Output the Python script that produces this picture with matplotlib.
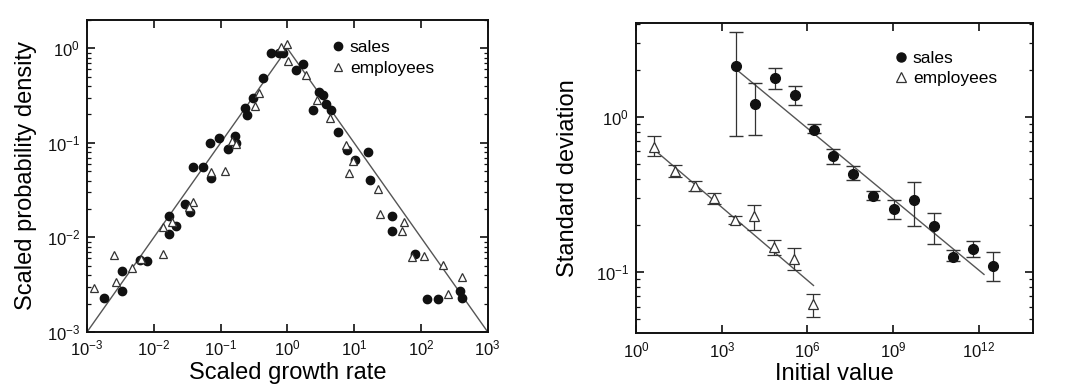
import numpy as np
import matplotlib
matplotlib.use("Agg")
import matplotlib.pyplot as plt
from matplotlib.lines import Line2D
from matplotlib.ticker import FixedLocator, LogLocator, NullFormatter, NullLocator, LogFormatterSciNotation

plt.rcParams["font.family"] = ["Liberation Sans", "DejaVu Sans"]

# --- left panel: scaled growth-rate distribution (log10 values)
sales_x = [-2.75, -2.48, -2.48, -2.21, -2.10, -1.78, -1.78, -1.67, -1.53, -1.46,
           -1.41, -1.27, -1.14, -1.16, -1.02, -0.89, -0.79, -0.77, -0.64, -0.61,
           -0.52, -0.37, -0.25, -0.12, -0.06, 0.13, 0.23, 0.39, 0.48, 0.53,
           0.58, 0.65, 0.76, 0.90, 1.01, 1.21, 1.23, 1.57, 1.56, 1.91,
           2.09, 2.25, 2.59, 2.62]
sales_y = [-2.64, -2.35, -2.57, -2.24, -2.25, -1.77, -1.96, -1.88, -1.65, -1.73,
           -1.26, -1.26, -1.37, -1.00, -0.95, -1.06, -0.93, -1.00, -0.63, -0.70,
           -0.52, -0.31, -0.05, -0.05, -0.05, -0.23, -0.17, -0.65, -0.46, -0.49,
           -0.59, -0.65, -0.88, -1.08, -1.18, -1.10, -1.39, -1.77, -1.93, -2.17,
           -2.65, -2.65, -2.57, -2.64]
emp_x = [-2.90, -2.59, -2.56, -2.33, -2.19, -1.87, -1.86, -1.73, -1.41, -1.48,
         -1.14, -0.94, -0.83, -0.77, -0.48, -0.42, -0.09, -0.01, 0.01, 0.28,
         0.44, 0.64, 0.88, 0.92, 0.98, 1.35, 1.39, 1.71, 1.75, 1.87,
         2.04, 2.33, 2.40, 2.62]
emp_y = [-2.53, -2.19, -2.47, -2.32, -2.23, -2.18, -1.89, -1.84, -1.63, -1.68,
         -1.31, -1.30, -0.98, -1.01, -0.61, -0.47, 0.01, 0.05, -0.13, -0.28,
         -0.55, -0.74, -1.02, -1.32, -1.19, -1.49, -1.75, -1.93, -1.84, -2.21,
         -2.20, -2.29, -2.60, -2.42]
tent_x = [1e-3, 1.0, 1e3]
tent_y = [1e-3, 1.0, 1e-3]

# --- right panel: standard deviation vs initial value
s_x = [3.48, 4.16, 4.86, 5.56, 6.23, 6.91, 7.61, 8.29, 9.02, 9.72, 10.42, 11.10, 11.80, 12.49]
s_sd = [2.15, 1.22, 1.79, 1.38, 0.83, 0.557, 0.43, 0.31, 0.257, 0.293, 0.197, 0.126, 0.1415, 0.110]
s_hi = [3.53, 1.67, 2.07, 1.58, 0.906, 0.62, 0.48, 0.336, 0.29, 0.38, 0.241, 0.138, 0.158, 0.134]
s_lo = [0.76, 0.77, 1.51, 1.19, 0.79, 0.50, 0.39, 0.29, 0.22, 0.197, 0.152, 0.118, 0.125, 0.087]
e_x = [0.64, 1.35, 2.05, 2.73, 3.45, 4.13, 4.84, 5.54, 6.21]
e_sd = [0.64, 0.449, 0.357, 0.30, 0.218, 0.229, 0.145, 0.122, 0.0625]
e_hi = [0.75, 0.488, 0.385, 0.325, 0.229, 0.269, 0.162, 0.143, 0.0725]
e_lo = [0.557, 0.41, 0.333, 0.276, 0.205, 0.1875, 0.128, 0.1035, 0.051]
s_fit_x = [3.48, 12.18]
s_fit_y = [2.05, 0.0966]
e_fit_x = [0.64, 6.21]
e_fit_y = [0.615, 0.082]

fig = plt.figure(figsize=(10.8, 3.91), dpi=100)
ax1 = fig.add_axes([0.0806, 0.151, 0.371, 0.798])
ax2 = fig.add_axes([0.589, 0.148, 0.3676, 0.793])

ink = "#111111"


def style(ax):
    for sp in ax.spines.values():
        sp.set_linewidth(1.4)
        sp.set_color(ink)
    ax.tick_params(which="both", direction="in", top=True, right=True, colors=ink,
                   labelsize=12, pad=5)
    ax.tick_params(which="major", length=6, width=1.2)
    ax.tick_params(which="minor", length=3, width=0.9)


def legend_handles(ms):
    return [Line2D([], [], marker="o", ms=ms, color=ink, ls="none"),
            Line2D([], [], marker="^", ms=ms, mfc="white", mec="#333333", mew=0.9, ls="none")]


# left
ax1.plot(tent_x, tent_y, color="#555555", lw=1.0, zorder=1)
ax1.plot(10 ** np.array(sales_x), 10 ** np.array(sales_y), "o", ms=6, color=ink,
         mec=ink, ls="none", zorder=3)
ax1.plot(10 ** np.array(emp_x), 10 ** np.array(emp_y), "^", ms=6, mfc="white",
         mec="#333333", mew=0.9, ls="none", zorder=4)
ax1.set_xscale("log")
ax1.set_yscale("log")
ax1.set_xlim(1e-3, 1e3)
ax1.set_ylim(1e-3, 2)
ax1.xaxis.set_major_locator(FixedLocator([1e-3, 1e-2, 1e-1, 1, 1e1, 1e2, 1e3]))
ax1.xaxis.set_major_formatter(LogFormatterSciNotation())
ax1.xaxis.set_minor_locator(NullLocator())
ax1.yaxis.set_major_locator(FixedLocator([1e-3, 1e-2, 1e-1, 1]))
ax1.yaxis.set_major_formatter(LogFormatterSciNotation())
ax1.yaxis.set_minor_locator(LogLocator(base=10, subs=np.arange(2, 10)))
ax1.yaxis.set_minor_formatter(NullFormatter())
style(ax1)
ax1.set_xlabel("Scaled growth rate", fontsize=17, labelpad=2)
ax1.set_ylabel("Scaled probability density", fontsize=17, labelpad=7)
ax1.legend(legend_handles(6), ["sales", "employees"], loc="upper left",
           bbox_to_anchor=(0.565, 0.98), frameon=False, fontsize=12.5,
           handletextpad=0.1, labelspacing=0.3, borderpad=0.3, handlelength=1.2)

# right
ax2.plot(10 ** np.array(s_fit_x), s_fit_y, color="#555555", lw=1.0, zorder=1)
ax2.plot(10 ** np.array(e_fit_x), e_fit_y, color="#555555", lw=1.0, zorder=1)
s_sd_a = np.array(s_sd)
e_sd_a = np.array(e_sd)
ax2.errorbar(10 ** np.array(s_x), s_sd_a,
             yerr=[s_sd_a - np.array(s_lo), np.array(s_hi) - s_sd_a],
             fmt="o", ms=7, color=ink, ecolor="#333333", elinewidth=0.9, capsize=5,
             capthick=1.0, zorder=3)
ax2.errorbar(10 ** np.array(e_x), e_sd_a,
             yerr=[e_sd_a - np.array(e_lo), np.array(e_hi) - e_sd_a],
             fmt="^", ms=6.5, mfc="white", mec="#333333", mew=0.9, ecolor="#333333",
             elinewidth=0.9, capsize=5, capthick=1.0, zorder=4)
ax2.set_xscale("log")
ax2.set_yscale("log")
ax2.set_xlim(1, 10 ** 13.9)
ax2.set_ylim(0.0404, 4.04)
ax2.xaxis.set_major_locator(FixedLocator([1, 1e3, 1e6, 1e9, 1e12]))
ax2.xaxis.set_major_formatter(LogFormatterSciNotation())
ax2.xaxis.set_minor_locator(NullLocator())
ax2.yaxis.set_major_locator(FixedLocator([1e-1, 1]))
ax2.yaxis.set_major_formatter(LogFormatterSciNotation())
ax2.yaxis.set_minor_locator(LogLocator(base=10, subs=np.arange(2, 10)))
ax2.yaxis.set_minor_formatter(NullFormatter())
style(ax2)
ax2.set_xlabel("Initial value", fontsize=17, labelpad=2)
ax2.set_ylabel("Standard deviation", fontsize=17, labelpad=12)
ax2.legend(legend_handles(6.5), ["sales", "employees"], loc="upper left",
           bbox_to_anchor=(0.605, 0.955), frameon=False, fontsize=12.5,
           handletextpad=0.1, labelspacing=0.3, borderpad=0.3, handlelength=1.2)

fig.savefig("out.png", dpi=100)
